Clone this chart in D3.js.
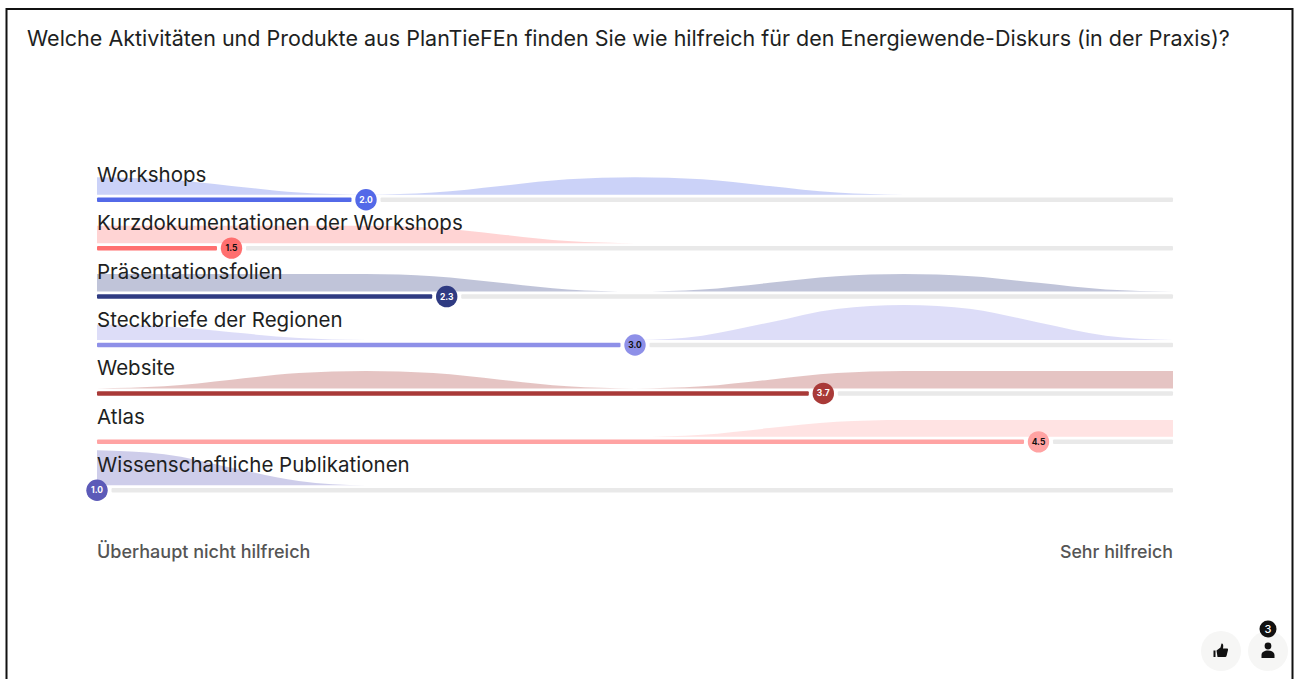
<!DOCTYPE html>
<html>
<head>
<meta charset="utf-8">
<script src="https://cdn.jsdelivr.net/npm/d3@7"></script>
<style>
    html, body { margin: 0; padding: 0; background: white; overflow: hidden; }
    text { font-family: Inter, "Open Sans", sans-serif; }
</style>
</head>
<body>
<svg class="svgMain" width="1295" height="679"></svg>
<script>
// Question text and the two scale ends.
const question = "Welche Aktivitäten und Produkte aus PlanTieFEn finden Sie wie hilfreich für den Energiewende-Diskurs (in der Praxis)?";
const scaleLow = "Überhaupt nicht hilfreich";
const scaleHigh = "Sehr hilfreich";

const items = ["Workshops", "Kurzdokumentationen der Workshops", "Präsentationsfolien", "Steckbriefe der Regionen", "Website", "Atlas", "Wissenschaftliche Publikationen"];
const means = [2.0, 1.5, 2.3, 3.0, 3.7, 4.5, 1.0];
const colors = ["#5369e8", "#ff6f6f", "#2f3b82", "#8e90e8", "#a93a38", "#ffa3a3", "#5c5ab8"];
const lightText = [true, false, true, false, true, false, true];

// Score positions the densities were read at.
const scores = [1, 1.25, 1.5, 1.75, 2, 2.25, 2.5, 2.75, 3, 3.25, 3.5, 3.75, 4, 4.25, 4.5, 4.75, 5];

// Density height per item at each score.
const workshopsDensity = [1, 0.88, 0.5, 0.12, 0, 0.12, 0.5, 0.88, 1, 0.88, 0.5, 0.12, 0, 0, 0, 0, 0];
const kurzDensity = [1, 1, 1, 1, 1, 0.88, 0.5, 0.12, 0, 0, 0, 0, 0, 0, 0, 0, 0];
const folienDensity = [1, 1, 1, 1, 1, 0.88, 0.5, 0.12, 0, 0.12, 0.5, 0.88, 1, 0.88, 0.5, 0.12, 0];
const steckbriefeDensity = [0.88, 0.78, 0.44, 0.11, 0, 0, 0, 0, 0, 0.25, 1, 1.77, 2, 1.77, 1, 0.25, 0];
const websiteDensity = [0, 0.12, 0.5, 0.88, 1, 0.88, 0.5, 0.12, 0, 0.12, 0.5, 0.88, 1, 1, 1, 1, 1];
const atlasDensity = [0, 0, 0, 0, 0, 0, 0, 0, 0, 0.12, 0.5, 0.86, 0.97, 0.97, 0.97, 0.97, 0.97];
const publikationenDensity = [2, 1.77, 1, 0.25, 0, 0, 0, 0, 0, 0, 0, 0, 0, 0, 0, 0, 0];
const densities = [workshopsDensity, kurzDensity, folienDensity, steckbriefeDensity, websiteDensity, atlasDensity, publikationenDensity];

const svgMain = d3.select(".svgMain");

// Scales.
const xScale = d3.scaleLinear().domain([1, 5]).range([97, 1173]);
const rowScale = d3.scalePoint().domain(items).range([199.7, 490.3]);
const heightScale = d3.scaleLinear().domain([0, 2]).range([0, 35]);

// Gap left in the track on both sides of the marker.
const markerGap = 14.5;

// Frame around the screenshot.
svgMain.append("path")
    .attr("d", "M6.500 679V9H1292.500V679")
    .attr("fill", "none").attr("stroke", "#111").attr("stroke-width", 2);

// Title.
svgMain.append("text")
    .text(question)
    .attr("x", 27).attr("y", 46)
    .attr("font-size", 21.5).attr("fill", "#1e1f22");

// Draw one row: density, track, label, marker.
function drawRow (item, i) {
    let row = svgMain.append("g").attr("class", "row");
    let baseY = rowScale(item);
    let meanX = xScale(means[i]);

    let area = d3.area()
        .x((d, j) => xScale(scores[j]))
        .y0(baseY - 5)
        .y1(d => baseY - 5 - heightScale(d))
        .curve(d3.curveMonotoneX);
    row.append("path")
        .attr("d", area(densities[i]))
        .attr("fill", colors[i]).attr("opacity", 0.3);

    // Coloured track up to the mean, grey track after it.
    row.append("rect")
        .attr("x", xScale(1)).attr("y", baseY - 2.25)
        .attr("width", Math.max(0, meanX - markerGap - xScale(1))).attr("height", 4.5)
        .attr("rx", 1).attr("fill", colors[i]);
    row.append("rect")
        .attr("x", meanX + markerGap).attr("y", baseY - 2.25)
        .attr("width", xScale(5) - meanX - markerGap).attr("height", 4.5)
        .attr("rx", 1).attr("fill", "#e9e9e9");

    row.append("text")
        .text(item)
        .attr("class", "itemLabel")
        .attr("x", xScale(1)).attr("y", baseY - 18)
        .attr("font-size", 20.5).attr("fill", "#1e1f22");

    row.append("circle")
        .attr("cx", meanX).attr("cy", baseY).attr("r", 10.7)
        .attr("fill", colors[i]);
    row.append("text")
        .text(means[i].toFixed(1))
        .attr("x", meanX).attr("y", baseY + 3)
        .attr("text-anchor", "middle").attr("font-size", 8.5).attr("font-weight", 700)
        .attr("fill", lightText[i] ? "white" : "#111");
}

items.forEach(drawRow);

// Labels under the scale.
svgMain.append("text")
    .text(scaleLow)
    .attr("x", xScale(1)).attr("y", 558)
    .attr("font-size", 18).attr("font-weight", 500).attr("fill", "#555");
svgMain.append("text")
    .text(scaleHigh)
    .attr("x", xScale(5)).attr("y", 558)
    .attr("text-anchor", "end")
    .attr("font-size", 17.8).attr("font-weight", 500).attr("fill", "#555");

// Like button and participant button, bottom right.
svgMain.append("circle").attr("cx", 1221).attr("cy", 651).attr("r", 20).attr("fill", "#f6f6f5");
svgMain.append("circle").attr("cx", 1268).attr("cy", 651).attr("r", 20).attr("fill", "#f6f6f5");
svgMain.append("path")
    .attr("d", "M1213.500 650.500h2v6.500h-2zM1216.500 650.500l4-3 1-4c2 0 2 2 1.500 5h4c.8 0 1.200 .6 1 1.400l-1.500 6c-.2 .6-.6 1-1.300 1h-7.700z")
    .attr("fill", "#111");
svgMain.append("circle").attr("cx", 1268).attr("cy", 646).attr("r", 3.4).attr("fill", "#111");
svgMain.append("path")
    .attr("d", "M1261.500 658v-3c0-3 3-4.500 6.500-4.500s6.500 1.500 6.500 4.500v3z")
    .attr("fill", "#111");
svgMain.append("circle").attr("cx", 1268).attr("cy", 629).attr("r", 8.5).attr("fill", "#111");
svgMain.append("text")
    .text("3")
    .attr("x", 1268).attr("y", 633)
    .attr("text-anchor", "middle").attr("font-size", 11).attr("font-weight", 500).attr("fill", "white");
</script>
</body>
</html>
